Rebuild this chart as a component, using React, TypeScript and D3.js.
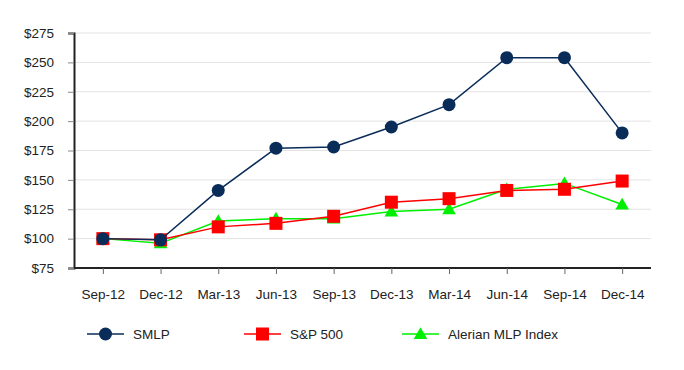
import React, { useRef, useEffect } from "react";
import * as d3 from "d3";

const categories = ["Sep-12", "Dec-12", "Mar-13", "Jun-13", "Sep-13", "Dec-13", "Mar-14", "Jun-14", "Sep-14", "Dec-14"];
const smlp = [100, 99, 141, 177, 178, 195, 214, 254, 254, 190];
const sp500 = [100, 99, 110, 113, 119, 131, 134, 141, 142, 149];
const alerian = [100, 96, 115, 117, 117, 123, 125, 142, 147, 129];
const yTicks = [75, 100, 125, 150, 175, 200, 225, 250, 275];

const series = [
  { name: "SMLP", values: smlp, color: "#0a2c58", shape: "circle" },
  { name: "S&P 500", values: sp500, color: "#ff0000", shape: "square" },
  { name: "Alerian MLP Index", values: alerian, color: "#00ee00", shape: "triangle" },
];

const W = 684;
const H = 370;

const App: React.FC = () => {
  const svgRef = useRef<SVGSVGElement | null>(null);

  useEffect(() => {
    const svg = d3.select(svgRef.current);
    svg.selectAll("*").remove();

    const left = 74, right = 651, top = 33, bottom = 268;
    const font = "'Liberation Sans', Arial, sans-serif";

    const x = d3.scalePoint<string>().domain(categories).range([left, right]).padding(0.5);
    const y = d3.scaleLinear().domain([75, 275]).range([bottom, top]);

    // grid
    svg.append("g")
      .selectAll("line")
      .data(yTicks.slice(1))
      .join("line")
      .attr("x1", left).attr("x2", right)
      .attr("y1", (d) => y(d)).attr("y2", (d) => y(d))
      .attr("stroke", "#e3e3e3").attr("stroke-width", 1);

    // y axis
    const yAxis = svg.append("g")
      .attr("transform", `translate(${left},0)`)
      .call(d3.axisLeft(y).tickValues(yTicks).tickSize(6).tickFormat((d) => `$${d}`));
    yAxis.select(".domain").attr("stroke", "#222").attr("stroke-width", 2);
    yAxis.selectAll(".tick line").attr("stroke", "#888");
    yAxis.selectAll("text").attr("font-family", font).attr("font-size", 13.5).attr("fill", "#222").attr("x", -20);

    // x axis
    const xAxis = svg.append("g")
      .attr("transform", `translate(0,${bottom})`)
      .call(d3.axisBottom(x).tickSize(6).tickSizeOuter(0));
    xAxis.select(".domain").attr("stroke", "#222").attr("stroke-width", 2).attr("d", `M${left},0H${right}`);
    xAxis.selectAll(".tick line").attr("stroke", "#666");
    xAxis.selectAll("text").attr("font-family", font).attr("font-size", 13.5).attr("fill", "#222").attr("y", 21);

    const drawMarker = (g: d3.Selection<SVGGElement, unknown, null, undefined>, shape: string, cx: number, cy: number, color: string) => {
      if (shape === "circle") {
        g.append("circle").attr("cx", cx).attr("cy", cy).attr("r", 6.5).attr("fill", color);
      } else if (shape === "square") {
        g.append("rect").attr("x", cx - 6.5).attr("y", cy - 6.5).attr("width", 13).attr("height", 13).attr("fill", color);
      } else {
        g.append("path")
          .attr("d", d3.symbol().type(d3.symbolTriangle).size(80)())
          .attr("transform", `translate(${cx},${cy + 1})`)
          .attr("fill", color);
      }
    };

    const line = d3.line<number>()
      .x((_, i) => x(categories[i]) as number)
      .y((d) => y(d));

    // draw in reverse so SMLP sits on top
    [...series].reverse().forEach((s) => {
      const g = svg.append("g");
      g.append("path")
        .attr("d", line(s.values))
        .attr("fill", "none")
        .attr("stroke", s.color)
        .attr("stroke-width", 1.5);
      s.values.forEach((v, i) => drawMarker(g as any, s.shape, x(categories[i]) as number, y(v), s.color));
    });

    // legend
    const legendX = [87, 244, 402];
    const ly = 334;
    series.forEach((s, i) => {
      const g = svg.append("g");
      const lx = legendX[i];
      g.append("line")
        .attr("x1", lx).attr("x2", lx + 37)
        .attr("y1", ly).attr("y2", ly)
        .attr("stroke", s.color).attr("stroke-width", 1.5);
      drawMarker(g as any, s.shape, lx + 18.5, ly, s.color);
      g.append("text")
        .attr("x", lx + 46).attr("y", ly + 5)
        .attr("font-family", font).attr("font-size", 13.5).attr("fill", "#222")
        .text(s.name);
    });
  }, []);

  return (
    <div style={{ position: "absolute", left: 0, top: 0, width: W, height: H, background: "#fff" }}>
      <svg ref={svgRef} width={W} height={H} style={{ display: "block" }} />
    </div>
  );
};

export default App;
